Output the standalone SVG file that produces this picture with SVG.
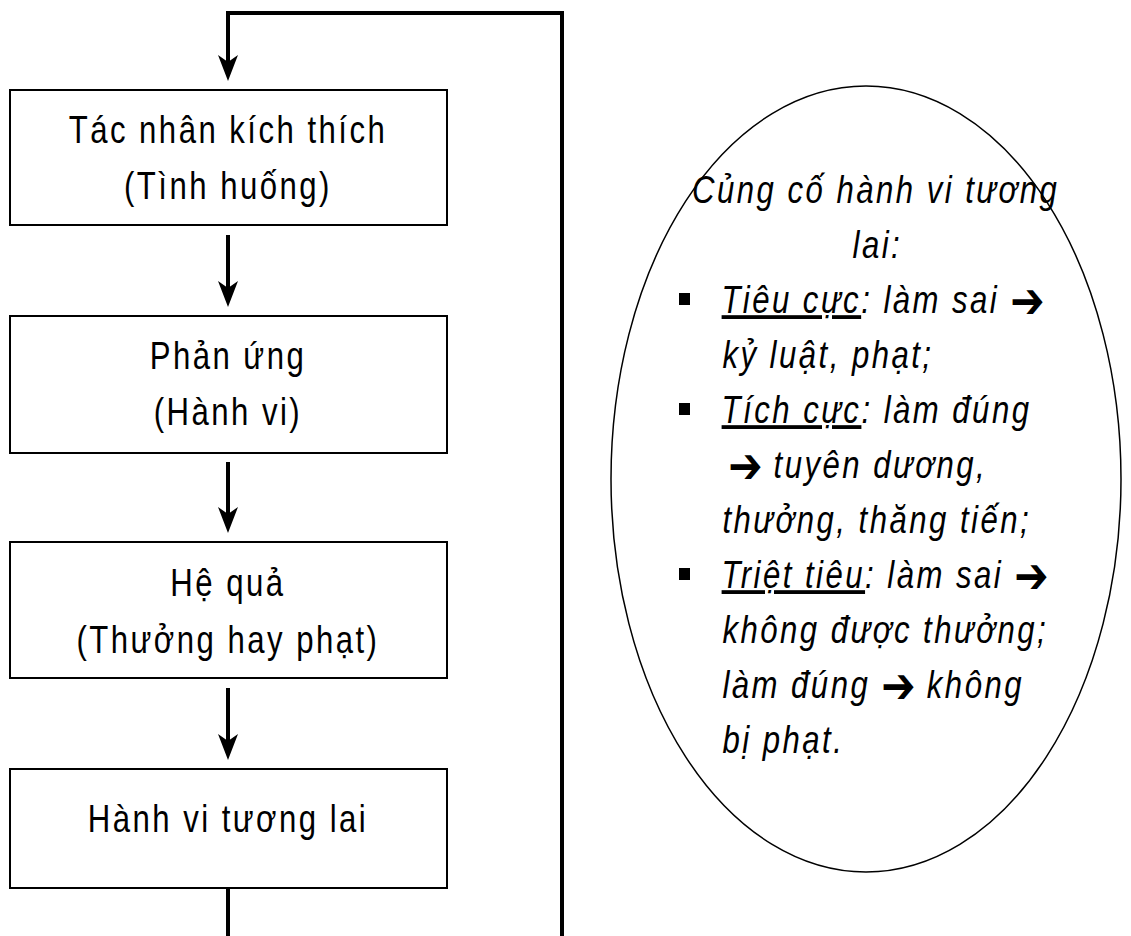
<svg xmlns="http://www.w3.org/2000/svg" width="1131" height="936" viewBox="0 0 1131 936">
<style>
.box{fill:#fff;stroke:#000;stroke-width:2}
.conn{fill:none;stroke:#000;stroke-width:4}
.t{font-family:"Liberation Sans",Arial,sans-serif;font-size:38px;letter-spacing:3px;fill:#000;text-anchor:middle}
.e{font-family:"Liberation Sans",Arial,sans-serif;font-size:38px;letter-spacing:3px;font-style:italic;fill:#000}
.ar{font-family:"DejaVu Sans",sans-serif;font-size:50px;font-style:normal;font-weight:bold;letter-spacing:0}
.u{text-decoration:underline}
</style>
<defs>
<marker id="ah" viewBox="0 0 26 20" refX="14" refY="10" markerWidth="26" markerHeight="20" markerUnits="userSpaceOnUse" orient="auto">
<path d="M0,0 L7,10 L0,20 L26,10 Z" fill="#000"/>
</marker>
</defs>
<rect width="1131" height="936" fill="#fff"/>
<g id="connectors">
<path class="conn" d="M562,936 L562,13 L228,13 L228,69" marker-end="url(#ah)"/>
<path class="conn" d="M228,235 L228,295" marker-end="url(#ah)"/>
<path class="conn" d="M228,462 L228,521" marker-end="url(#ah)"/>
<path class="conn" d="M228,688 L228,748" marker-end="url(#ah)"/>
<path class="conn" d="M228,888 L228,936"/>
</g>
<g id="n1">
<rect class="box" x="10" y="90" width="437" height="135"/>
<g transform="scale(0.82,1)">
<text class="t" x="278" y="143">Tác nhân kích thích</text>
<text class="t" x="278" y="199">(Tình huống)</text>
</g>
</g>
<g id="n2">
<rect class="box" x="10" y="316" width="437" height="137"/>
<g transform="scale(0.82,1)">
<text class="t" x="278" y="369">Phản ứng</text>
<text class="t" x="278" y="425">(Hành vi)</text>
</g>
</g>
<g id="n3">
<rect class="box" x="10" y="542" width="437" height="136"/>
<g transform="scale(0.82,1)">
<text class="t" x="278" y="596">Hệ quả</text>
<text class="t" x="278" y="653">(Thưởng hay phạt)</text>
</g>
</g>
<g id="n4">
<rect class="box" x="10" y="769" width="437" height="119"/>
<g transform="scale(0.82,1)">
<text class="t" x="278" y="832">Hành vi tương lai</text>
</g>
</g>
<g id="ellipse">
<ellipse cx="866" cy="479" rx="255" ry="393" fill="none" stroke="#000" stroke-width="1.5"/>
<rect x="679" y="293" width="11" height="12"/>
<rect x="679" y="403" width="11" height="12"/>
<rect x="679" y="568" width="11" height="12"/>
<g transform="scale(0.82,1)">
<text class="e" x="1068" y="203" text-anchor="middle">Củng cố hành vi tương</text>
<text class="e" x="1070" y="258" text-anchor="middle">lai:</text>
<text class="e" x="880" y="313"><tspan class="u">Tiêu cực</tspan>: làm sai <tspan class="ar" dy="5">➔</tspan></text>
<text class="e" x="881" y="368">kỷ luật, phạt;</text>
<text class="e" x="880" y="423"><tspan class="u">Tích cực</tspan>: làm đúng</text>
<text class="e" x="888" y="478"><tspan class="ar" dy="5">➔</tspan><tspan dy="-5"> tuyên dương,</tspan></text>
<text class="e" x="881" y="533">thưởng, thăng tiến;</text>
<text class="e" x="880" y="588"><tspan class="u">Triệt tiêu</tspan>: làm sai <tspan class="ar" dy="5">➔</tspan></text>
<text class="e" x="881" y="643">không được thưởng;</text>
<text class="e" x="881" y="698">làm đúng <tspan class="ar" dy="5">➔</tspan><tspan dy="-5"> không</tspan></text>
<text class="e" x="881" y="753">bị phạt.</text>
</g>
</g>
</svg>
